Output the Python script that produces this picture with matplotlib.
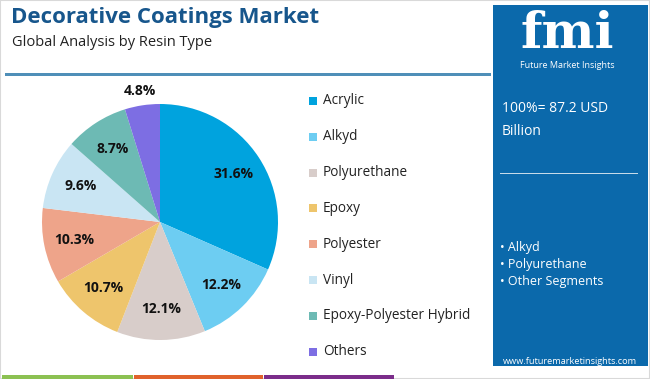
import matplotlib
matplotlib.use("Agg")
import matplotlib.pyplot as plt
from matplotlib.patches import Rectangle
import numpy as np

plt.rcParams['font.family'] = ['Open Sans', 'DejaVu Sans']

# data
categories = ["Acrylic", "Alkyd", "Polyurethane", "Epoxy", "Polyester",
              "Vinyl", "Epoxy-Polyester Hybrid", "Others"]
shares = [31.6, 12.2, 12.1, 10.7, 10.3, 9.6, 8.7, 4.8]
colors = ["#00a3de", "#6dcdf2", "#d8cdca", "#eec56c", "#eea48a",
          "#c9e5f3", "#6dbab4", "#7d6ee3"]
title = "Decorative Coatings Market"
subtitle = "Global Analysis by Resin Type"
total_text = "100%= 87.2 USD\nBillion"
bullets = ["Alkyd", "Polyurethane", "Other Segments"]

W, H = 650, 379
fig = plt.figure(figsize=(W / 100, H / 100), dpi=100)


def fx(x):
    return x / W


def fy(y):
    return 1 - y / H


# outer frame
fig.patches.append(Rectangle((0, 0), 1, 1, transform=fig.transFigure,
                             fill=False, edgecolor="#d9d9d9", lw=1.5))

# title
fig.text(fx(11), fy(18), title, fontsize=16, fontweight="bold",
         color="#17568c", va="center", ha="left")
fig.text(fx(12), fy(43), subtitle, fontsize=10.5, color="#222222",
         va="center", ha="left")
fig.patches.append(Rectangle((fx(5), fy(76)), fx(486), 2.5 / H,
                             transform=fig.transFigure, color="#4f8fb8", lw=0))

# right panel
fig.patches.append(Rectangle((fx(493), fy(366)), fx(155), 361 / H,
                             transform=fig.transFigure, color="#0b69ab", lw=0))
fig.text(fx(567), fy(35), "fmi", fontsize=36, fontweight="bold",
         family="DejaVu Serif", color="white", ha="center", va="center")
for yy in range(20, 54, 5):
    fig.patches.append(Rectangle((fx(515), fy(yy)), fx(105), 0.8 / H,
                                 transform=fig.transFigure, color="#0b69ab", lw=0))
fig.text(fx(567), fy(66), "Future Market Insights", fontsize=6.5,
         color="white", ha="center", va="center")
fig.text(fx(502), fy(120), total_text, fontsize=10, color="white",
         ha="left", va="center", linespacing=1.7)
fig.patches.append(Rectangle((fx(500), fy(174)), fx(138), 1.2 / H,
                             transform=fig.transFigure, color="#c7dbe9", lw=0))
for i, b in enumerate(bullets):
    fig.text(fx(500), fy(247 + i * 17.5), "\u2022 " + b, fontsize=9,
             color="white", ha="left", va="center")
fig.text(fx(570), fy(362), "www.futuremarketinsights.com", fontsize=6.6,
         color="white", ha="center", va="center")

# bottom colour strips
strips = [(2, 133, "#8cc152"), (134, 263, "#e0622c"), (264, 394, "#7b2d8a")]
for x0, x1, c in strips:
    fig.patches.append(Rectangle((fx(x0), 0), fx(x1 - x0), 4 / H,
                                 transform=fig.transFigure, color=c, lw=0))

# pie
cx, cy, r = 160, 222, 118
ax = fig.add_axes([fx(cx - r), fy(cy + r), fx(2 * r), 2 * r / H])
wedges, _ = ax.pie(shares, colors=colors, startangle=90, counterclock=False,
                   wedgeprops=dict(linewidth=0))
ax.set_xlim(-1, 1)
ax.set_ylim(-1, 1)
ax.set_aspect("equal")
ax.axis("off")

for val, w in zip(shares, wedges):
    mid = np.deg2rad((w.theta1 + w.theta2) / 2)
    d = 1.12 if val < 6 else 0.74
    ax.text(d * np.cos(mid), d * np.sin(mid), f"{val}%", ha="center",
            va="center", fontsize=10, fontweight="bold", color="#111111")

# legend
for i, (cat, c) in enumerate(zip(categories, colors)):
    y = 101 + i * 35.8
    fig.patches.append(Rectangle((fx(309), fy(y + 4)), fx(8), 8 / H,
                                 transform=fig.transFigure, color=c, lw=0))
    fig.text(fx(323), fy(y), cat, fontsize=9.8, color="#222222",
             ha="left", va="center")

fig.savefig("out.png", dpi=100)
